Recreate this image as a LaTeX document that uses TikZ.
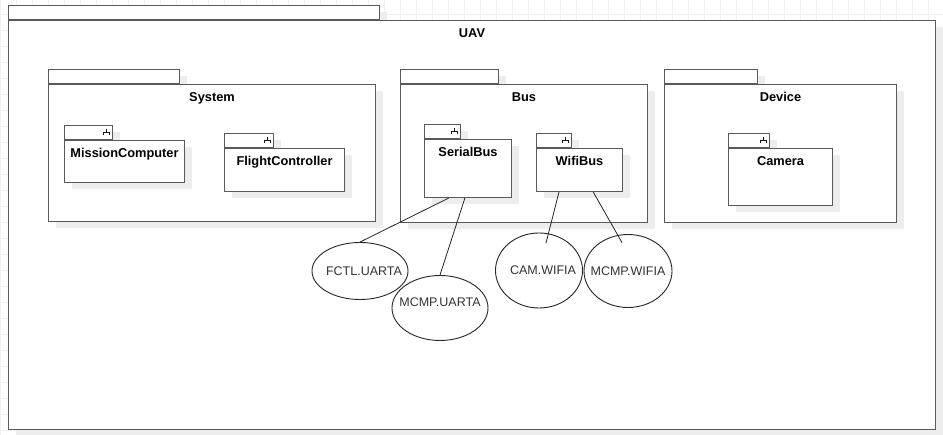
\documentclass[tikz,border=0pt]{standalone}
\usepackage{fontspec}
\setmainfont{Liberation Sans}
\usetikzlibrary{shapes.geometric,shadows}
\tikzstyle{gridline}=[black!6, line width=0.8pt]
\tikzstyle{pkgtab}=[draw=black!65, line width=1pt, fill=white, minimum height=14pt, inner sep=0pt, anchor=north west,
                    drop shadow={shadow xshift=7pt, shadow yshift=-7pt, fill=black!7, opacity=1}]
\tikzstyle{pkgname}=[font=\fontsize{12.8}{15}\selectfont\bfseries, anchor=base, yshift=-18pt, inner sep=0pt]
\tikzstyle{fork}=[black!90, line width=0.8pt]
\tikzstyle{port}=[ellipse, draw=black!85, line width=0.9pt, fill=white, inner sep=0pt, font=\fontsize{12.5}{15}\selectfont, text=black!80]
\tikzstyle{edge}=[draw, black!85, line width=0.8pt]

\begin{document}
\begin{tikzpicture}[x=1pt, y=-1pt]
				\useasboundingbox (0,0) rectangle (943,435);

				% Background grid
				\foreach \gx in {0,16,...,943}
				\draw[gridline] (\gx,0) -- (\gx,435);
				\foreach \gy in {14,30,...,435}
				\draw[gridline] (0,\gy) -- (943,\gy);

				% Packages: tab left, tab top, tab width, body width, body height, name, text
				\foreach \px/\py/\tw/\bw/\bh/\name/\txt in {8/5/371/927/409/uav/UAV,
										48/69/131/327/137/system/System, 400/69/98/247/138/bus/Bus, 664/69/93/232/138/device/Device}
				{
					\node[pkgtab, minimum width=\tw] (\name tab) at (\px,\py) {};
					\node[pkgtab, minimum width=\bw, minimum height=\bh, label={[pkgname]north:\txt}] (\name) at (\name tab.south west) {};
				}

				% Subsystems, with the fork symbol in the tab
				\foreach \px/\py/\tw/\bw/\bh/\name/\txt in {64/125/48/120/42/mission/MissionComputer, 224/133/49/120/43/flight/FlightController,
										424/124/36/87/58/serialbus/SerialBus, 536/133/35/86/43/wifibus/WifiBus, 728/133/41/104/57/camera/Camera}
				{
					\node[pkgtab, minimum width=\tw] (\name tab) at (\px,\py) {};
					\node[pkgtab, minimum width=\bw, minimum height=\bh, label={[pkgname]north:\txt}] (\name) at (\name tab.south west) {};
					\draw[fork] ([xshift=-7pt]\name tab.east) +(0,-3.5) -- +(0,0.3) +(-3,3) -- +(-3,0.3) -- +(3,0.3) -- +(3,3);
				}

				% Interfaces (\dx pushes the text off centre)
				\foreach \pos/\w/\h/\dx/\name/\txt in {{(360,271)/96/57/8/fctl/FCTL.UARTA}, {(539,270.5)/87/75/8/cam/CAM.WIFIA},
										{(628,271)/88/73/0/mcmpw/MCMP.WIFIA}}
				\node[port, minimum width=\w, minimum height=\h] (\name) at \pos {\makebox[0pt]{\hspace{\dx pt}\txt}};
				\node[port, minimum width=96, minimum height=65, text depth=12pt] (mcmpu) at (440,308) {\makebox[0pt]{MCMP.UARTA}};

				% Connect buses with interfaces
				\path[edge] (serialbus.237) -- (fctl.north);
				\path[edge] (serialbus.264) -- (mcmpu.north);
				\path[edge, shorten >=-10pt] (wifibus.227) -- (cam);
				\path[edge, shorten >=-9pt] (wifibus.302) -- (mcmpw.106);

			\end{tikzpicture}
\end{document}
